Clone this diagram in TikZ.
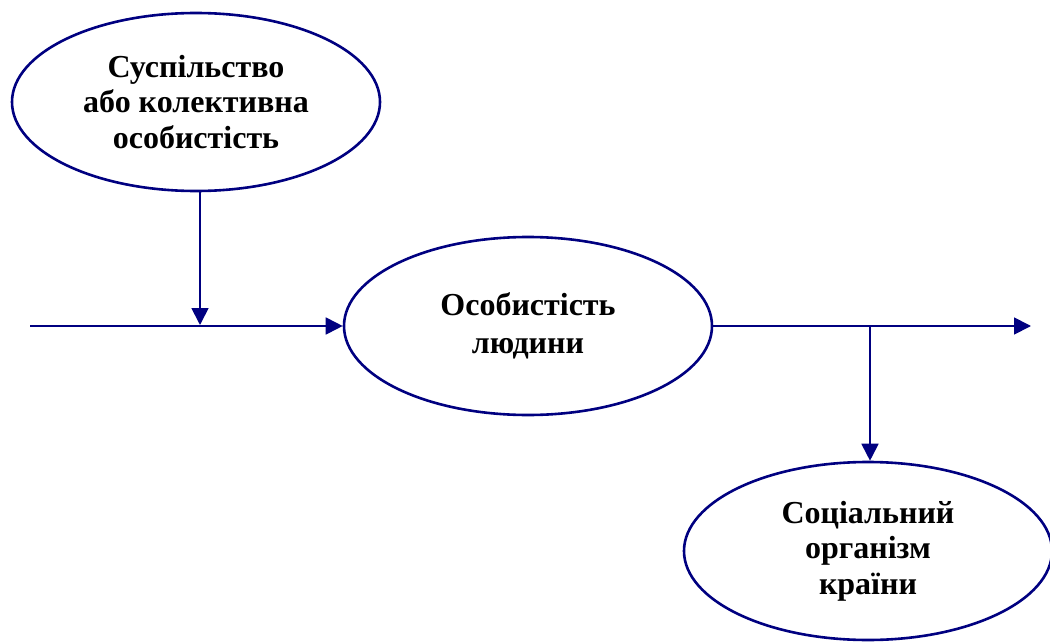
\documentclass[tikz,border=0pt]{standalone}
\usepackage{fontspec}
\setmainfont{Liberation Serif}
\usetikzlibrary{shapes.geometric,arrows.meta}
\definecolor{navyline}{RGB}{0,0,128}
\begin{document}
\begin{tikzpicture}[x=1pt,y=-1pt,
  oval/.style={ellipse,draw=navyline,line width=2.6pt,inner sep=0pt,
    minimum width=368pt,minimum height=178pt,align=center,
    font=\bfseries\fontsize{32}{35.5}\selectfont},
  link/.style={draw=navyline,line width=1.8pt,-{Triangle[length=17pt,width=17pt]}}]
\useasboundingbox (0,0) rectangle (1050,642);
\node[oval] (top) at (196,102) {Суспільство\\або колективна\\особистість};
\node[oval] (mid) at (528,326) {Особистість\\[2pt]людини};
\node[oval] (bot) at (868,551) {Соціальний\\організм\\країни};
\coordinate (start) at (30,326);
\coordinate (j1) at (200,325);
\coordinate (j2) at (870,327);
\coordinate (end) at (1031,326);
\draw[link] (start) -- (mid.west);
\draw[link] (j1 |- top.south) -- (j1);
\draw[link] (mid.east) -- (end);
\draw[link] (j2) -- (j2 |- bot.north);
\end{tikzpicture}
\end{document}
